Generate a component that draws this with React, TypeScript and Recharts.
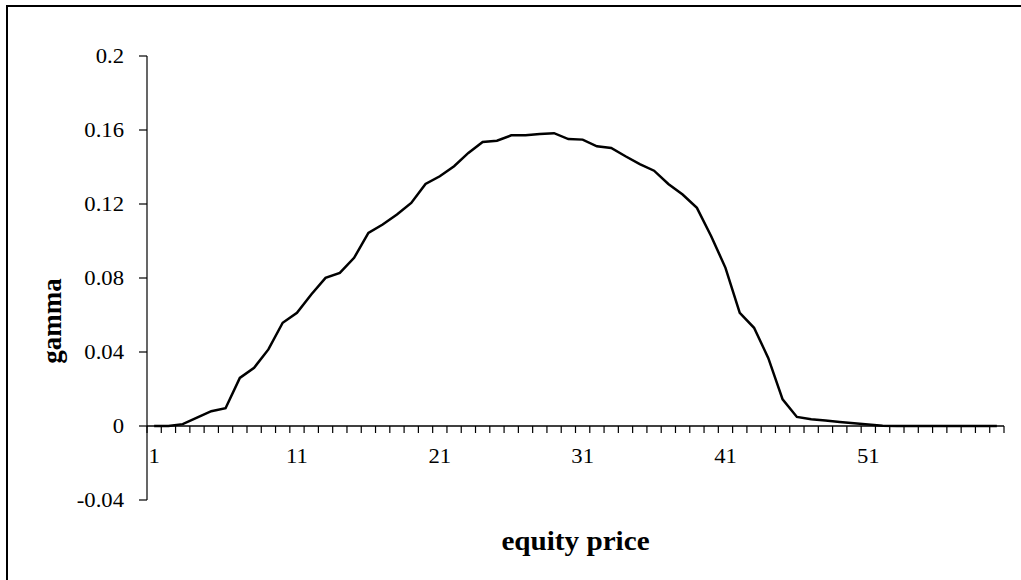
import React from 'react';
import { LineChart, Line, XAxis, YAxis, ReferenceLine } from 'recharts';

// equity price categories 1..60
const prices = Array.from({ length: 60 }, (_, i) => i + 1);

const gamma = [
  0, 0, 0.001, 0.0045, 0.008, 0.0096, 0.026, 0.0315, 0.0414, 0.0558,
  0.0612, 0.0711, 0.0801, 0.0828, 0.0909, 0.1044, 0.1089, 0.1143, 0.1206, 0.1308,
  0.135, 0.1404, 0.1476, 0.1535, 0.1542, 0.1571, 0.1571, 0.1578, 0.1583, 0.1551,
  0.1548, 0.1512, 0.1503, 0.1458, 0.1416, 0.138, 0.1308, 0.1251, 0.1179, 0.1026,
  0.0855, 0.0612, 0.0531, 0.0367, 0.0144, 0.0049, 0.0036, 0.003, 0.0022, 0.0015,
  0.0008, 0.0002, 0, 0, 0, 0, 0, 0, 0, 0,
];

const xLabels = [1, 11, 21, 31, 41, 51];
const yTicks = [-0.04, 0, 0.04, 0.08, 0.12, 0.16, 0.2];

const W = 1021;
const H = 580;
const MARGIN = { top: 56, right: 17, bottom: 0, left: 0 };
const Y_AXIS_W = 147;
const X_AXIS_H = 80;
const FONT = '"Liberation Serif", "Times New Roman", serif';
// the original export is a little wider than tall, text included
const STRETCH = 1.08;

const data = prices.map((x, i) => ({ x, gamma: gamma[i] }));
// tick marks sit between categories, like Excel
const xTicks = [...prices.map((p) => p - 0.5), prices[prices.length - 1] + 0.5];

const plotH = H - MARGIN.top - MARGIN.bottom - X_AXIS_H;
const plotW = W - MARGIN.left - MARGIN.right - Y_AXIS_W;
const yMin = yTicks[0];
const yMax = yTicks[yTicks.length - 1];
// the x axis crosses at gamma = 0
const zeroY = MARGIN.top + (yMax / (yMax - yMin)) * plotH;
const band = plotW / prices.length;

const stretch = (x: number, y: number) =>
  `translate(${x} ${y}) scale(${STRETCH} 1) translate(${-x} ${-y})`;

const XTick = (props: any) => {
  const { x, payload } = props;
  const center = payload.value + 0.5;
  const lx = x + band / 2;
  const ly = zeroY + 37;
  return (
    <g>
      <line x1={x} x2={x} y1={zeroY} y2={zeroY + 7} stroke="#000" strokeWidth={1.2} />
      {xLabels.includes(center) && (
        <text
          x={lx}
          y={ly}
          transform={stretch(lx, ly)}
          textAnchor="middle"
          fontSize={21}
          fontFamily={FONT}
          fill="#000"
        >
          {center}
        </text>
      )}
    </g>
  );
};

const YTick = (props: any) => {
  const { x, y, payload } = props;
  return (
    <text
      x={x}
      y={y}
      dy="0.355em"
      transform={stretch(x, y)}
      textAnchor="end"
      fontSize={21}
      fontFamily={FONT}
      fill="#000"
    >
      {String(payload.value)}
    </text>
  );
};

const App = () => {
  const titleX = MARGIN.left + Y_AXIS_W + plotW / 2;
  return (
    <div style={{ position: 'absolute', left: 0, top: 0, width: W, height: H, background: '#fff' }}>
      <div
        style={{
          position: 'absolute',
          left: 6,
          top: 5,
          right: -10,
          bottom: -10,
          borderLeft: '2px solid #000',
          borderTop: '2px solid #000',
        }}
      />
      <div style={{ position: 'absolute', left: 0, top: 0 }}>
        <LineChart width={W} height={H} data={data} margin={MARGIN}>
          <XAxis
            type="number"
            dataKey="x"
            domain={[0.5, 60.5]}
            ticks={xTicks}
            interval={0}
            axisLine={false}
            tickLine={false}
            tick={<XTick />}
            height={X_AXIS_H}
          />
          <YAxis
            width={Y_AXIS_W}
            domain={[yMin, yMax]}
            ticks={yTicks}
            interval={0}
            tick={<YTick />}
            tickSize={8}
            tickMargin={15}
            axisLine={{ stroke: '#000', strokeWidth: 1.2 }}
            tickLine={{ stroke: '#000', strokeWidth: 1.2 }}
          />
          <ReferenceLine y={0} stroke="#000" strokeWidth={1.5} />
          <Line
            type="linear"
            dataKey="gamma"
            stroke="#000"
            strokeWidth={2.5}
            dot={false}
            isAnimationActive={false}
          />
          <text
            x={52}
            y={321}
            transform="rotate(-90 52 321)"
            textAnchor="middle"
            dominantBaseline="central"
            fontSize={27}
            fontWeight="bold"
            fontFamily={FONT}
            fill="#000"
          >
            gamma
          </text>
          <text
            x={titleX}
            y={550}
            transform={stretch(titleX, 550)}
            textAnchor="middle"
            fontSize={27}
            fontWeight="bold"
            fontFamily={FONT}
            fill="#000"
          >
            equity price
          </text>
        </LineChart>
      </div>
    </div>
  );
};

export default App;
